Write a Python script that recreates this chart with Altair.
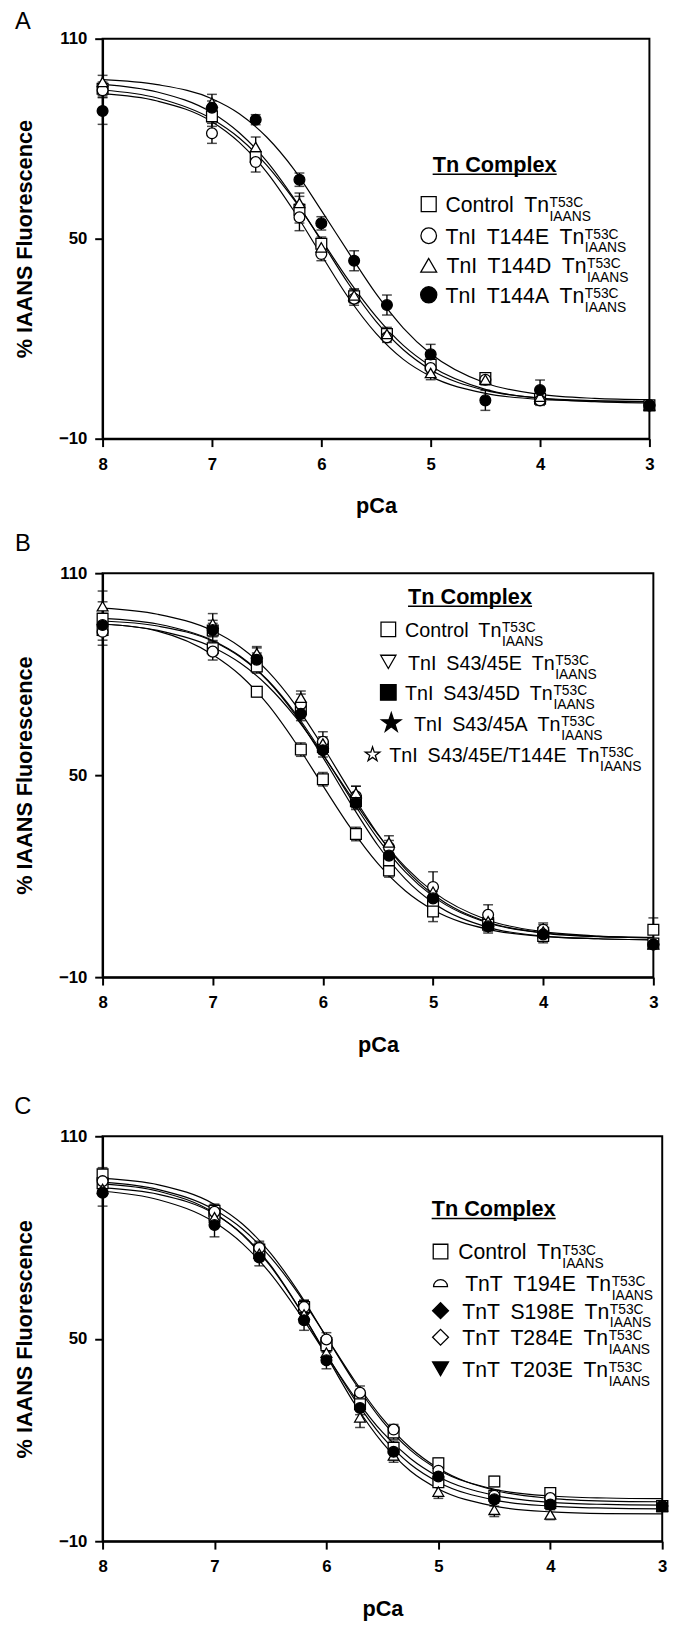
import altair as alt
import pandas as pd

FONT = "Liberation Sans"

# ---------------- shared values ----------------
PCA_POINTS = [8.0, 7.0, 6.6, 6.2, 6.0, 5.7, 5.4, 5.0, 4.5, 4.0, 3.0]
PCA_CURVE = [8.0, 7.5, 7.0, 6.75, 6.5, 6.25, 6.0, 5.75, 5.5, 5.25, 5.0, 4.5, 4.0, 3.5, 3.0]
X_TICKS = [8, 7, 6, 5, 4, 3]
Y_TICKS = [-10, 50, 110]
X_TITLE = "pCa"
Y_TITLE = "% IAANS Fluorescence"
LEGEND_TITLE = "Tn Complex"
SUFFIX = "Tn"
SUP = "T53C"
SUB = "IAANS"
PANEL_LETTERS = ["A", "B", "C"]

# ---------------- panel A ----------------
A_NAMES = ["Control", "TnI T144E", "TnI T144D", "TnI T144A"]
A_CONTROL_MEAN = [95.0, 86.7, 74.5, 58.7, 48.5, 32.7, 21.4, 12.2, 8.2, 2.0, 0.0]
A_CONTROL_SEM = [2.0, 3.0, 2.0, 4.0, 2.0, 2.0, 1.5, 2.0, 1.5, 1.5, 1.0]
A_CONTROL_FIT = [94.6, 92.2, 85.9, 80.2, 72.1, 61.7, 49.7, 37.5, 26.7, 18.0, 11.8, 4.8, 2.1, 1.1, 0.7]
A_T144E_MEAN = [94.5, 81.6, 73.0, 56.4, 45.4, 32.0, 20.4, 11.2, 7.7, 1.5, 0.0]
A_T144E_SEM = [2.0, 3.0, 3.0, 4.0, 2.0, 2.0, 1.5, 1.5, 1.5, 1.5, 1.0]
A_T144E_FIT = [93.5, 91.3, 85.1, 78.9, 70.0, 58.3, 45.1, 32.2, 21.6, 13.8, 8.7, 3.6, 1.8, 1.3, 1.1]
A_T144D_MEAN = [97.0, 90.8, 77.5, 60.7, 47.4, 33.0, 21.4, 9.7, 7.7, 2.6, 0.0]
A_T144D_SEM = [2.0, 2.5, 3.0, 3.0, 2.0, 2.0, 2.0, 2.0, 1.5, 1.5, 1.0]
A_T144D_FIT = [96.3, 94.0, 87.8, 81.8, 73.3, 62.1, 49.3, 36.4, 25.2, 16.7, 10.7, 4.5, 2.2, 1.4, 1.1]
A_T144A_MEAN = [88.3, 89.3, 85.7, 67.7, 54.6, 43.4, 30.1, 15.3, 1.5, 4.6, 0.0]
A_T144A_SEM = [4.0, 2.0, 1.5, 2.0, 2.0, 3.0, 3.0, 3.0, 3.0, 3.0, 1.0]
A_T144A_FIT = [97.7, 96.2, 92.0, 87.5, 80.5, 70.8, 58.5, 45.8, 33.5, 23.2, 15.5, 6.7, 3.3, 2.1, 1.7]

# ---------------- panel B ----------------
B_NAMES = ["Control", "TnI S43/45E", "TnI S43/45D", "TnI S43/45A", "TnI S43/45E/T144E"]
B_CONTROL_MEAN = [93.1, 87.7, 74.8, 57.6, 48.8, 32.5, 21.7, 12.4, 6.1, 3.2, 0.0]
B_CONTROL_SEM = [3.0, 2.0, 1.5, 2.0, 2.0, 2.0, 2.0, 2.0, 1.5, 1.5, 1.0]
B_CONTROL_FIT = [94.9, 92.8, 85.8, 79.7, 71.0, 59.7, 46.9, 34.4, 23.7, 15.6, 10.0, 4.2, 2.1, 1.4, 1.1]
B_S4345E_MEAN = [96.5, 93.0, 82.3, 69.6, 58.4, 42.3, 24.7, 9.5, 5.6, 2.2, 4.1]
B_S4345E_SEM = [5.0, 3.0, 2.0, 2.0, 2.0, 2.0, 2.0, 3.0, 2.0, 2.0, 3.5]
B_S4345E_FIT = [96.6, 94.9, 90.0, 85.3, 78.2, 68.4, 56.3, 43.2, 31.1, 21.2, 14.0, 6.1, 3.1, 2.0, 1.7]
B_S4345D_MEAN = [92.6, 86.7, 84.8, 71.1, 59.9, 43.7, 28.6, 16.8, 8.5, 4.1, -0.3]
B_S4345D_SEM = [4.0, 2.5, 3.0, 3.0, 3.0, 3.0, 2.0, 4.5, 3.0, 2.0, 1.0]
B_S4345D_FIT = [94.9, 93.0, 88.0, 83.3, 76.5, 67.3, 56.0, 43.9, 32.3, 22.7, 15.4, 6.9, 3.5, 2.2, 1.8]
B_S4345A_MEAN = [100.2, 95.0, 86.2, 73.0, 59.4, 44.7, 30.0, 15.4, 6.6, 3.6, -0.3]
B_S4345A_SEM = [4.5, 3.0, 2.0, 2.0, 2.0, 2.0, 2.0, 2.0, 2.0, 2.0, 1.0]
B_S4345A_FIT = [99.6, 97.8, 92.9, 88.1, 80.9, 70.9, 58.5, 45.1, 32.5, 22.1, 14.6, 6.3, 3.2, 2.1, 1.7]
B_S4345E_T144E_MEAN = [94.6, 93.1, 84.3, 68.2, 57.4, 41.8, 26.1, 13.4, 5.1, 2.7, -0.3]
B_S4345E_T144E_SEM = [3.0, 2.0, 2.0, 2.0, 2.0, 2.0, 2.0, 2.0, 2.0, 2.0, 1.0]
B_S4345E_T144E_FIT = [95.8, 94.3, 89.8, 85.1, 78.0, 67.9, 55.3, 41.7, 29.1, 19.1, 12.1, 4.8, 2.2, 1.4, 1.1]

# ---------------- panel C ----------------
C_NAMES = ["Control", "TnT T194E", "TnT S198E", "TnT T284E", "TnT T203E"]
C_CONTROL_MEAN = [98.7, 87.9, 76.4, 59.2, 48.7, 32.3, 22.2, 13.1, 7.7, 4.3, 0.4]
C_CONTROL_SEM = [2.0, 2.0, 2.0, 2.0, 2.0, 2.0, 2.0, 1.5, 1.5, 1.5, 1.0]
C_CONTROL_FIT = [97.5, 95.6, 89.8, 84.0, 75.4, 63.9, 50.5, 37.1, 25.6, 17.0, 11.2, 5.4, 3.4, 2.8, 2.6]
C_T194E_MEAN = [96.1, 86.7, 75.8, 59.4, 48.1, 30.6, 17.7, 7.5, 3.5, 1.3, 0.4]
C_T194E_SEM = [2.0, 2.0, 2.0, 2.0, 2.0, 2.0, 2.0, 1.5, 1.5, 1.5, 1.0]
C_T194E_FIT = [95.9, 93.7, 87.2, 80.8, 71.5, 59.3, 45.4, 32.1, 20.9, 12.8, 7.5, 2.2, 0.4, -0.2, -0.4]
C_S198E_MEAN = [96.7, 87.6, 76.9, 59.4, 49.8, 34.0, 23.1, 10.9, 3.5, 2.8, 0.4]
C_S198E_SEM = [2.0, 2.0, 2.0, 2.0, 2.0, 2.0, 1.5, 1.5, 1.5, 1.5, 1.0]
C_S198E_FIT = [96.4, 94.2, 88.2, 82.5, 74.2, 63.3, 50.5, 37.7, 26.4, 17.7, 11.6, 5.1, 2.7, 1.9, 1.7]
C_T284E_MEAN = [94.4, 86.0, 75.2, 57.2, 45.9, 26.7, 15.4, 4.7, -0.7, -2.1, 0.4]
C_T284E_SEM = [2.0, 2.0, 2.0, 2.0, 2.0, 3.0, 2.0, 2.0, 2.0, 1.5, 1.0]
C_T284E_FIT = [94.7, 92.8, 87.0, 81.0, 71.8, 59.4, 45.0, 30.8, 19.2, 10.8, 5.5, 0.4, -1.3, -1.8, -1.9]
C_T203E_MEAN = [93.3, 83.7, 74.1, 55.5, 43.6, 29.5, 16.5, 9.2, 2.4, 0.9, 0.4]
C_T203E_SEM = [4.0, 3.5, 2.5, 3.0, 2.5, 2.0, 2.5, 2.0, 2.0, 1.5, 1.0]
C_T203E_FIT = [93.7, 91.2, 84.5, 78.2, 69.3, 57.9, 45.2, 32.8, 22.3, 14.5, 9.1, 3.6, 1.5, 0.9, 0.7]

# ---------------- styles ----------------
STAR = ("M0,-1L0.2245,-0.309L0.9511,-0.309L0.3633,0.118L0.5878,0.809L0,0.382"
        "L-0.5878,0.809L-0.3633,0.118L-0.9511,-0.309L-0.2245,-0.309Z")
DOME = "M-1,0.5A1,1,0,0,1,1,0.5Z"
ENSP = "\u2002"

ARIAL = {" ": 278, ENSP: 500, "T": 611, "n": 556, "I": 278, "l": 222, "C": 722, "o": 556,
         "t": 278, "r": 333, "E": 667, "D": 722, "A": 667, "S": 667, "/": 278}


def text_width(s, size):
    return sum(ARIAL.get(ch, 556) for ch in s) * size / 1000.0


SCRIPT_FS = 14
TITLE_FS = 22
TITLE_W = 125.9


def panel(names, means, sems, fits, shapes, fills, sizes, width, height, leg, letters, main_fs):
    pts, caps, curves = [], [], []
    for s, name in enumerate(names):
        for j, p in enumerate(PCA_POINTS):
            m, e = means[s][j], sems[s][j]
            pts.append({"series": name, "pCa": p, "val": m, "lo": m - e, "hi": m + e})
            caps.append({"series": name, "pCa": p, "val": m - e})
            caps.append({"series": name, "pCa": p, "val": m + e})
        for j, p in enumerate(PCA_CURVE):
            curves.append({"series": name, "pCa": p, "val": fits[s][j]})
    pts = pd.DataFrame(pts)
    caps = pd.DataFrame(caps)
    curves = pd.DataFrame(curves)

    ax = alt.Axis(values=X_TICKS, format="d", title=X_TITLE, tickSize=8, labelPadding=10,
                  titlePadding=24, labelFlush=False, labelOverlap=False)
    ay = alt.Axis(values=Y_TICKS, title=Y_TITLE, tickSize=8, labelPadding=8,
                  titlePadding=22, labelFlush=False, labelOverlap=False)
    xs = alt.Scale(domain=[3, 8], reverse=True, nice=False, zero=False)
    ys = alt.Scale(domain=[-10, 110], nice=False, zero=False)
    X = alt.X("pCa:Q", scale=xs, axis=ax)

    line = alt.Chart(curves).mark_line(color="black", strokeWidth=1.2, interpolate="monotone").encode(
        x=X, y=alt.Y("val:Q", scale=ys, axis=ay), detail="series:N")
    err = alt.Chart(pts).mark_rule(color="black", strokeWidth=1.4).encode(
        x=X, y=alt.Y("lo:Q", scale=ys, axis=ay), y2="hi:Q")
    cap = alt.Chart(caps).mark_tick(color="black", orient="horizontal", size=10, thickness=1.5).encode(
        x=X, y=alt.Y("val:Q", scale=ys, axis=ay))
    dots = alt.Chart(pts).mark_point(filled=True, stroke="black", strokeWidth=1.3, opacity=1).encode(
        x=X, y=alt.Y("val:Q", scale=ys, axis=ay),
        shape=alt.Shape("series:N", scale=alt.Scale(domain=names, range=shapes), legend=None),
        fill=alt.Fill("series:N", scale=alt.Scale(domain=names, range=fills), legend=None),
        size=alt.Size("series:N", scale=alt.Scale(domain=names, range=[s[0] for s in sizes]), legend=None),
    )
    layers = [line, err, cap, dots]

    one = pd.DataFrame({"k": [0]})
    tx, tcy = leg["title"]
    layers.append(alt.Chart(one).mark_text(text=LEGEND_TITLE, font=FONT, fontSize=TITLE_FS,
                                           fontWeight="bold", align="left", baseline="alphabetic",
                                           color="black").encode(x=alt.value(tx), y=alt.value(tcy + 7)))
    layers.append(alt.Chart(one).mark_rule(color="black", strokeWidth=1.5).encode(
        x=alt.value(tx), x2=alt.value(tx + TITLE_W), y=alt.value(tcy + 9.5)))
    for i, name in enumerate(names):
        sx, cy, lx = leg["rows"][i]
        layers.append(alt.Chart(one).mark_point(shape=shapes[i], filled=True, fill=fills[i],
                                                stroke="black", strokeWidth=1.3, size=sizes[i][1],
                                                opacity=1).encode(x=alt.value(sx), y=alt.value(cy)))
        main = name.replace(" ", ENSP) + ENSP + SUFFIX
        layers.append(alt.Chart(one).mark_text(text=main, font=FONT, fontSize=main_fs, align="left",
                                               baseline="alphabetic", color="black").encode(
            x=alt.value(lx), y=alt.value(cy + 8)))
        sxx = lx + text_width(main, main_fs) + 0.5
        layers.append(alt.Chart(one).mark_text(text=SUP, font=FONT, fontSize=SCRIPT_FS, align="left",
                                               baseline="alphabetic", color="black").encode(
            x=alt.value(sxx), y=alt.value(cy + 3)))
        layers.append(alt.Chart(one).mark_text(text=SUB, font=FONT, fontSize=SCRIPT_FS, align="left",
                                               baseline="alphabetic", color="black").encode(
            x=alt.value(sxx), y=alt.value(cy + 17)))

    # panel letters (placed relative to this panel's plot area)
    for letter, lxp, lyp in letters:
        layers.append(alt.Chart(one).mark_text(text=letter, font=FONT, fontSize=24, align="center",
                                               baseline="middle", color="black").encode(
            x=alt.value(lxp), y=alt.value(lyp)))

    return alt.layer(*layers).properties(width=width, height=height)


chart_a = panel(
    A_NAMES,
    [A_CONTROL_MEAN, A_T144E_MEAN, A_T144D_MEAN, A_T144A_MEAN],
    [A_CONTROL_SEM, A_T144E_SEM, A_T144D_SEM, A_T144A_SEM],
    [A_CONTROL_FIT, A_T144E_FIT, A_T144D_FIT, A_T144A_FIT],
    ["square", "circle", "triangle-up", "circle"],
    ["white", "white", "white", "black"],
    [(120, 230), (120, 250), (130, 260), (130, 270)],
    555, 406,
    {"title": (335, 128), "rows": [(331, 168, 348), (331, 200, 348), (331, 230, 349), (331, 260, 348)]},
    [(PANEL_LETTERS[0], -81, -17), (PANEL_LETTERS[1], -81, 513)],
    21.5,
)

chart_b = panel(
    B_NAMES,
    [B_CONTROL_MEAN, B_S4345E_MEAN, B_S4345D_MEAN, B_S4345A_MEAN, B_S4345E_T144E_MEAN],
    [B_CONTROL_SEM, B_S4345E_SEM, B_S4345D_SEM, B_S4345A_SEM, B_S4345E_T144E_SEM],
    [B_CONTROL_FIT, B_S4345E_FIT, B_S4345D_FIT, B_S4345A_FIT, B_S4345E_T144E_FIT],
    ["square", "triangle-down", "square", STAR, STAR],
    ["white", "white", "black", "black", "white"],
    [(130, 220), (130, 240), (130, 250), (200, 430), (200, 240)],
    559, 410,
    {"title": (310, 24), "rows": [(290, 57, 307), (290, 90, 310), (290, 121, 307),
                                  (293, 152, 316), (274, 184, 291)]},
    [(PANEL_LETTERS[2], -81, 542)],
    20,
)

chart_c = panel(
    C_NAMES,
    [C_CONTROL_MEAN, C_T194E_MEAN, C_S198E_MEAN, C_T284E_MEAN, C_T203E_MEAN],
    [C_CONTROL_SEM, C_T194E_SEM, C_S198E_SEM, C_T284E_SEM, C_T203E_SEM],
    [C_CONTROL_FIT, C_T194E_FIT, C_S198E_FIT, C_T284E_FIT, C_T203E_FIT],
    ["square", DOME, "diamond", "diamond", "triangle-down"],
    ["white", "white", "black", "white", "black"],
    [(120, 220), (140, 200), (140, 260), (140, 260), (130, 260)],
    568, 411,
    {"title": (334, 74), "rows": [(343, 117, 361), (343, 149, 368), (343, 177, 365),
                                  (343, 204, 365), (343, 236, 365)]},
    [],
    21.5,
)

chart = alt.vconcat(chart_a, chart_b, chart_c, spacing=6.5).properties(
    padding={"left": 5, "top": -11, "right": 5, "bottom": 0}
).configure_view(stroke="black", strokeWidth=2).configure_axis(
    domainColor="black", domainWidth=2, tickColor="black", tickWidth=2,
    labelColor="black", labelFont=FONT, labelFontSize=17, labelFontWeight="bold",
    titleColor="black", titleFont=FONT, titleFontSize=22, titleFontWeight="bold", grid=False,
)

chart.save("out.html", embed_options={"renderer": "svg", "actions": False})
